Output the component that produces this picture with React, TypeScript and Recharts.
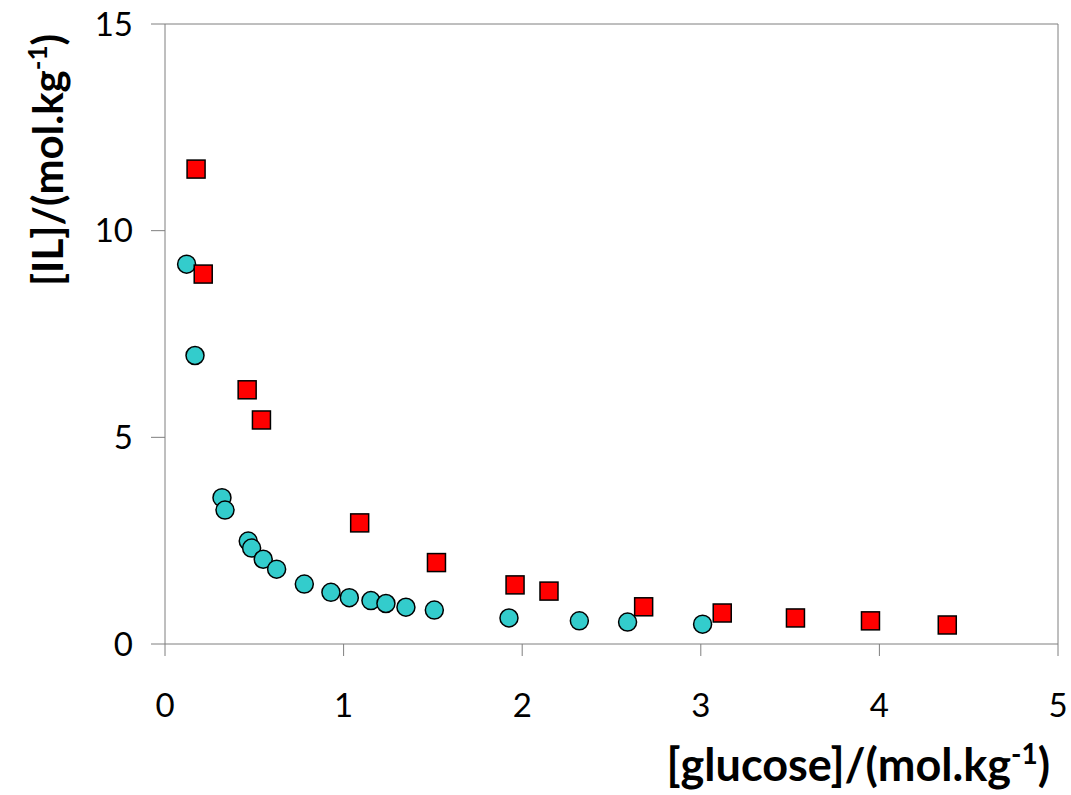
import {
  ScatterChart,
  Scatter,
  XAxis,
  YAxis,
  ReferenceLine,
  Label,
} from "recharts";

// [glucose] (mol/kg) and [IL] (mol/kg) for the two systems
const circleX = [
  0.121, 0.168, 0.319, 0.336, 0.466, 0.485, 0.55, 0.625, 0.78, 0.929, 1.032,
  1.153, 1.237, 1.349, 1.508, 1.926, 2.32, 2.59, 3.01,
];
const circleY = [
  9.19, 6.98, 3.54, 3.24, 2.49, 2.32, 2.05, 1.81, 1.45, 1.25, 1.12, 1.05, 0.98,
  0.89, 0.82, 0.63, 0.56, 0.53, 0.48,
];

const squareX = [
  0.174, 0.214, 0.46, 0.54, 1.09, 1.52, 1.96, 2.15, 2.68, 3.12, 3.53, 3.95,
  4.38,
];
const squareY = [
  11.49, 8.95, 6.15, 5.42, 2.93, 1.97, 1.43, 1.28, 0.9, 0.75, 0.63, 0.56, 0.46,
];

const xTicks = [0, 1, 2, 3, 4, 5];
const yTicks = [0, 5, 10, 15];

const circles = circleX.map((x, i) => ({ x, y: circleY[i] }));
const squares = squareX.map((x, i) => ({ x, y: squareY[i] }));

const FONT = "Lato, 'Open Sans', sans-serif";
const AXIS = "#7f7f7f";

function CircleDot(props: any) {
  const { cx, cy } = props;
  return (
    <circle cx={cx} cy={cy} r={9} fill="#33CCCC" stroke="#000" strokeWidth={1.5} />
  );
}

function SquareDot(props: any) {
  const { cx, cy } = props;
  return (
    <rect
      x={cx - 9}
      y={cy - 9}
      width={18}
      height={18}
      fill="#FF0000"
      stroke="#000"
      strokeWidth={1.5}
    />
  );
}

export default function App() {
  return (
    <div
      style={{
        position: "absolute",
        left: 0,
        top: 0,
        width: 1071,
        height: 795,
        background: "#fff",
      }}
    >
      <ScatterChart
        width={1071}
        height={795}
        margin={{ top: 24, right: 13, bottom: 0, left: 0 }}
      >
        <XAxis
          type="number"
          dataKey="x"
          domain={[0, 5]}
          ticks={xTicks}
          height={151}
          stroke={AXIS}
          tickSize={12}
          tickMargin={38}
          tick={{ fontSize: 33, fill: "#000", fontFamily: FONT }}
        >
          <Label
            content={() => (
              <text
                x={1050}
                y={781}
                textAnchor="end"
                fontFamily={FONT}
                fontWeight="bold"
                fontSize={45}
                fill="#000"
              >
                [glucose]/(mol.kg
                <tspan dy={-17} fontSize={28}>
                  -1
                </tspan>
                <tspan dy={17}>)</tspan>
              </text>
            )}
          />
        </XAxis>
        <YAxis
          type="number"
          dataKey="y"
          domain={[0, 15]}
          ticks={yTicks}
          width={165}
          stroke={AXIS}
          tickSize={14}
          tickMargin={18}
          tick={{ fontSize: 33, fill: "#000", fontFamily: FONT }}
        >
          <Label
            content={() => (
              <text
                transform="rotate(-90)"
                x={-160}
                y={63}
                textAnchor="middle"
                fontFamily={FONT}
                fontWeight="bold"
                fontSize={42}
                fill="#000"
              >
                [IL]/(mol.kg
                <tspan dy={-16} fontSize={26}>
                  -1
                </tspan>
                <tspan dy={16}>)</tspan>
              </text>
            )}
          />
        </YAxis>
        <ReferenceLine y={15} stroke={AXIS} strokeWidth={1} />
        <ReferenceLine x={5} stroke={AXIS} strokeWidth={1} />
        <Scatter
          data={circles}
          shape={CircleDot}
          isAnimationActive={false}
        />
        <Scatter
          data={squares}
          shape={SquareDot}
          isAnimationActive={false}
        />
      </ScatterChart>
    </div>
  );
}
